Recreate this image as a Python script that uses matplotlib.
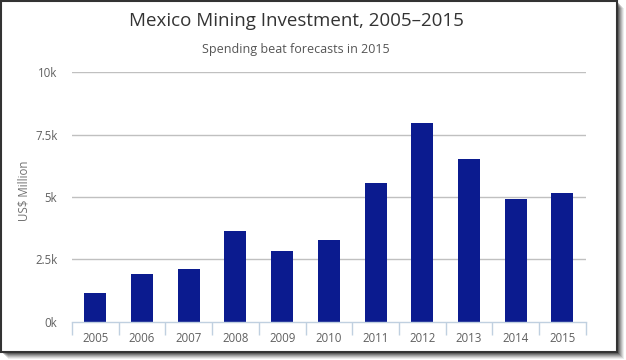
import matplotlib
matplotlib.use("Agg")
import matplotlib.pyplot as plt
from matplotlib.patches import Rectangle
from matplotlib.ticker import FixedLocator

years = ["2005", "2006", "2007", "2008", "2009", "2010",
         "2011", "2012", "2013", "2014", "2015"]
investment = [1150, 1920, 2110, 3640, 2830, 3280, 5570, 7980, 6520, 4930, 5160]
y_ticks = [0, 2500, 5000, 7500, 10000]
y_tick_labels = ["0k", "2.5k", "5k", "7.5k", "10k"]

title = "Mexico Mining Investment, 2005–2015"
subtitle = "Spending beat forecasts in 2015"
y_label = "US$ Million"

W, H = 626, 360
plt.rcParams['font.family'] = ['Open Sans', 'DejaVu Sans']
fig = plt.figure(figsize=(W / 100, H / 100), dpi=100)
fig.patch.set_facecolor("white")

def px(x, y):
    return x / W, 1 - y / H

# shadow
for i, a in enumerate([0.10, 0.14, 0.18, 0.22, 0.28, 0.34]):
    off = 7 - i
    x0, y0 = px(1 + off, 352 + off)
    fig.patches.append(Rectangle((x0, y0), 616 / W, 351 / H,
                                 transform=fig.transFigure, facecolor="black",
                                 alpha=a * 0.7, edgecolor="none", zorder=0))
# frame
x0, y0 = px(1, 352)
fig.patches.append(Rectangle((x0, y0), 616 / W, 351 / H,
                             transform=fig.transFigure, facecolor="white",
                             edgecolor="#333333", linewidth=1.5, zorder=1))

left, right = 72, 585.7
top, bottom = 72.4, 321.6
ax = fig.add_axes([left / W, 1 - bottom / H, (right - left) / W, (bottom - top) / H])
ax.set_zorder(2)
ax.patch.set_visible(False)

x = list(range(len(years)))
ax.bar(x, investment, width=0.47, color="#0b1b8f", zorder=3)
ax.set_xlim(-0.5, len(years) - 0.5)
ax.set_ylim(0, 10000)
ax.set_yticks(y_ticks)
ax.set_yticklabels(y_tick_labels)
ax.set_xticks(x)
ax.set_xticklabels(years)
ax.xaxis.set_minor_locator(FixedLocator([i - 0.5 for i in range(len(years) + 1)]))

for v in y_ticks[1:]:
    ax.axhline(v, color="#c0c0c0", linewidth=1, zorder=1)

for s in ["top", "right", "left"]:
    ax.spines[s].set_visible(False)
ax.spines["bottom"].set_color("#c0d0e0")
ax.spines["bottom"].set_linewidth(1)
ax.spines["bottom"].set_zorder(4)

ax.tick_params(axis="y", length=0, pad=10.5, labelsize=8.3, labelcolor="#606060")
ax.tick_params(axis="x", which="major", length=0, pad=7.5, labelsize=8.3, labelcolor="#606060")
ax.tick_params(axis="x", which="minor", length=9, width=1, color="#c0d0e0")

ax.set_ylabel(y_label, fontsize=8.3, color="#707070")
ax.yaxis.set_label_coords((30 - left) / (right - left), (bottom - 191) / (bottom - top))

fig.text(296 / W, 1 - 21 / H, title, ha="center", va="center",
         fontsize=13.5, color="#333333")
fig.text(296 / W, 1 - 50 / H, subtitle, ha="center", va="center",
         fontsize=9, color="#555555")

fig.savefig("out.png", dpi=100, facecolor="white")
